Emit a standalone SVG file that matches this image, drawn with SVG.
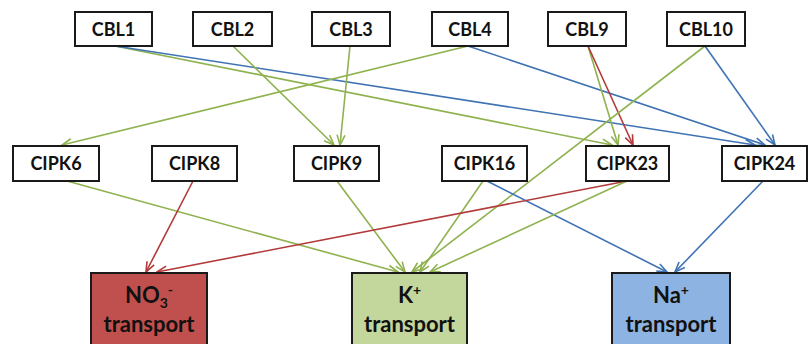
<svg xmlns="http://www.w3.org/2000/svg" width="811" height="344" viewBox="0 0 811 344">
<defs>
<style>
.box{fill:#fff;stroke:#1a1a1a;stroke-width:2}
.lbl{font-family:Lato,"Open Sans",sans-serif;font-weight:700;font-size:18px;fill:#111;text-anchor:middle}
.big{font-family:Lato,"Open Sans",sans-serif;font-weight:700;font-size:22px;fill:#111;text-anchor:middle}
.g{stroke:#8fb24f;stroke-width:1.6;fill:none;marker-end:url(#ag)}
.b{stroke:#3f73b3;stroke-width:1.6;fill:none;marker-end:url(#ab)}
.r{stroke:#b23a3a;stroke-width:1.6;fill:none;marker-end:url(#ar)}
</style>
<marker id="ag" viewBox="0 0 12 10" refX="11" refY="5" markerWidth="12" markerHeight="10" markerUnits="userSpaceOnUse" orient="auto"><path d="M1,1 L11,5 L1,9" fill="none" stroke="#8fb24f" stroke-width="1.6"/></marker>
<marker id="ab" viewBox="0 0 12 10" refX="11" refY="5" markerWidth="12" markerHeight="10" markerUnits="userSpaceOnUse" orient="auto"><path d="M1,1 L11,5 L1,9" fill="none" stroke="#3f73b3" stroke-width="1.6"/></marker>
<marker id="ar" viewBox="0 0 12 10" refX="11" refY="5" markerWidth="12" markerHeight="10" markerUnits="userSpaceOnUse" orient="auto"><path d="M1,1 L11,5 L1,9" fill="none" stroke="#b23a3a" stroke-width="1.6"/></marker>
</defs>
<rect width="811" height="344" fill="#fff"/>
<g id="connectors">
<path class="g" d="M115,46 L612,145"/>
<path class="b" d="M115,46 L755,145"/>
<path class="g" d="M233,46 L334,145"/>
<path class="g" d="M350,46 L340,145"/>
<path class="g" d="M468,46 L62,145"/>
<path class="b" d="M468,46 L765,145"/>
<path class="g" d="M588,46 L618,145"/>
<path class="r" d="M588,46 L633,145"/>
<path class="g" d="M705,46 L412,272"/>
<path class="b" d="M705,46 L775,145"/>
<path class="g" d="M67,181 L398,272"/>
<path class="r" d="M193,181 L146,272"/>
<path class="g" d="M337,181 L405,272"/>
<path class="g" d="M483,181 L420,272"/>
<path class="b" d="M487,181 L667,272"/>
<path class="r" d="M627,181 L157,272"/>
<path class="g" d="M627,181 L430,272"/>
<path class="b" d="M763,181 L675,272"/>
</g>
<g id="CBL1"><rect class="box" x="75" y="12" width="77" height="34"/><text class="lbl" x="113.5" y="35.5">CBL1</text></g>
<g id="CBL2"><rect class="box" x="193" y="12" width="79" height="34"/><text class="lbl" x="232.5" y="35.5">CBL2</text></g>
<g id="CBL3"><rect class="box" x="312" y="12" width="78" height="34"/><text class="lbl" x="351" y="35.5">CBL3</text></g>
<g id="CBL4"><rect class="box" x="432" y="12" width="76" height="34"/><text class="lbl" x="470" y="35.5">CBL4</text></g>
<g id="CBL9"><rect class="box" x="548" y="12" width="78" height="34"/><text class="lbl" x="587" y="35.5">CBL9</text></g>
<g id="CBL10"><rect class="box" x="667" y="12" width="78" height="34"/><text class="lbl" x="706" y="35.5">CBL10</text></g>
<g id="CIPK6"><rect class="box" x="13" y="146" width="86" height="35"/><text class="lbl" x="56" y="170">CIPK6</text></g>
<g id="CIPK8"><rect class="box" x="152" y="146" width="85" height="35"/><text class="lbl" x="194.5" y="170">CIPK8</text></g>
<g id="CIPK9"><rect class="box" x="294" y="146" width="85" height="35"/><text class="lbl" x="336.5" y="170">CIPK9</text></g>
<g id="CIPK16"><rect class="box" x="442" y="146" width="85" height="35"/><text class="lbl" x="484.5" y="170">CIPK16</text></g>
<g id="CIPK23"><rect class="box" x="586" y="146" width="83" height="35"/><text class="lbl" x="627.5" y="170">CIPK23</text></g>
<g id="CIPK24"><rect class="box" x="722" y="146" width="85" height="35"/><text class="lbl" x="764.5" y="170">CIPK24</text></g>
<g id="NO3"><rect class="box" x="91" y="273" width="116" height="80" fill="#c0504d" style="fill:#c0504d"/><text class="big" x="149" y="303">NO<tspan font-size="14" dy="5">3</tspan><tspan font-size="14" dy="-13">-</tspan></text><text class="big" x="149" y="332">transport</text></g>
<g id="Kplus"><rect class="box" x="352" y="273" width="115" height="80" style="fill:#c3d69b"/><text class="big" x="409.5" y="303">K<tspan font-size="14" dy="-8">+</tspan></text><text class="big" x="409.5" y="332">transport</text></g>
<g id="Naplus"><rect class="box" x="612" y="273" width="118" height="80" style="fill:#8db3e2"/><text class="big" x="671" y="303">Na<tspan font-size="14" dy="-8">+</tspan></text><text class="big" x="671" y="332">transport</text></g>
</svg>
